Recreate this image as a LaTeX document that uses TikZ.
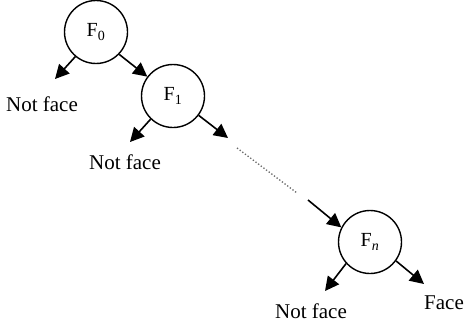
\documentclass[tikz,border=0pt]{standalone}
\usepackage{fontspec}
\setmainfont{Liberation Serif}
\usetikzlibrary{arrows.meta}
\begin{document}
\begin{tikzpicture}[x=1pt,y=-1pt,
  stage/.style={circle,draw,line width=1.4pt,minimum size=63pt,inner sep=0pt,font=\fontsize{20}{24}\selectfont},
  lbl/.style={inner sep=0pt,font=\fontsize{21}{25}\selectfont},
  arr/.style={line width=1.6pt,-{Triangle[length=14pt,width=14pt]}},
  dots/.style={line width=1.3pt,dotted,gray!80!black}]
\useasboundingbox (0,0) rectangle (465,324);
\node[stage] (F0) at (96,32) {F\textsubscript{0}};
\node[stage] (F1) at (173,96) {F\textsubscript{1}};
\node[stage] (Fn) at (370,242) {F\textsubscript{\itshape n}};
\node[lbl] (nf0) at (42,104) {Not face};
\node[lbl] (nf1) at (125,162) {Not face};
\node[lbl] (nfn) at (311,311) {Not face};
\node[lbl] (face) at (444,303) {Face};
\coordinate (t0) at (55,79);
\coordinate (t1l) at (130,142);
\coordinate (t1) at (228,138);
\coordinate (d0) at (237,148);
\coordinate (d1) at (297,193);
\coordinate (s2) at (308,200);
\coordinate (tn1) at (325,291);
\coordinate (tn2) at (424,284);
\draw[arr] (F0.230) -- (t0);
\draw[arr] (F0.316) -- (F1.143);
\draw[arr] (F1.226) -- (t1l);
\draw[arr] (F1.323) -- (t1);
\draw[dots] (d0) -- (d1);
\draw[arr] (s2) -- (Fn.153);
\draw[arr] (Fn.222) -- (tn1);
\draw[arr] (Fn.324) -- (tn2);
\end{tikzpicture}
\end{document}
